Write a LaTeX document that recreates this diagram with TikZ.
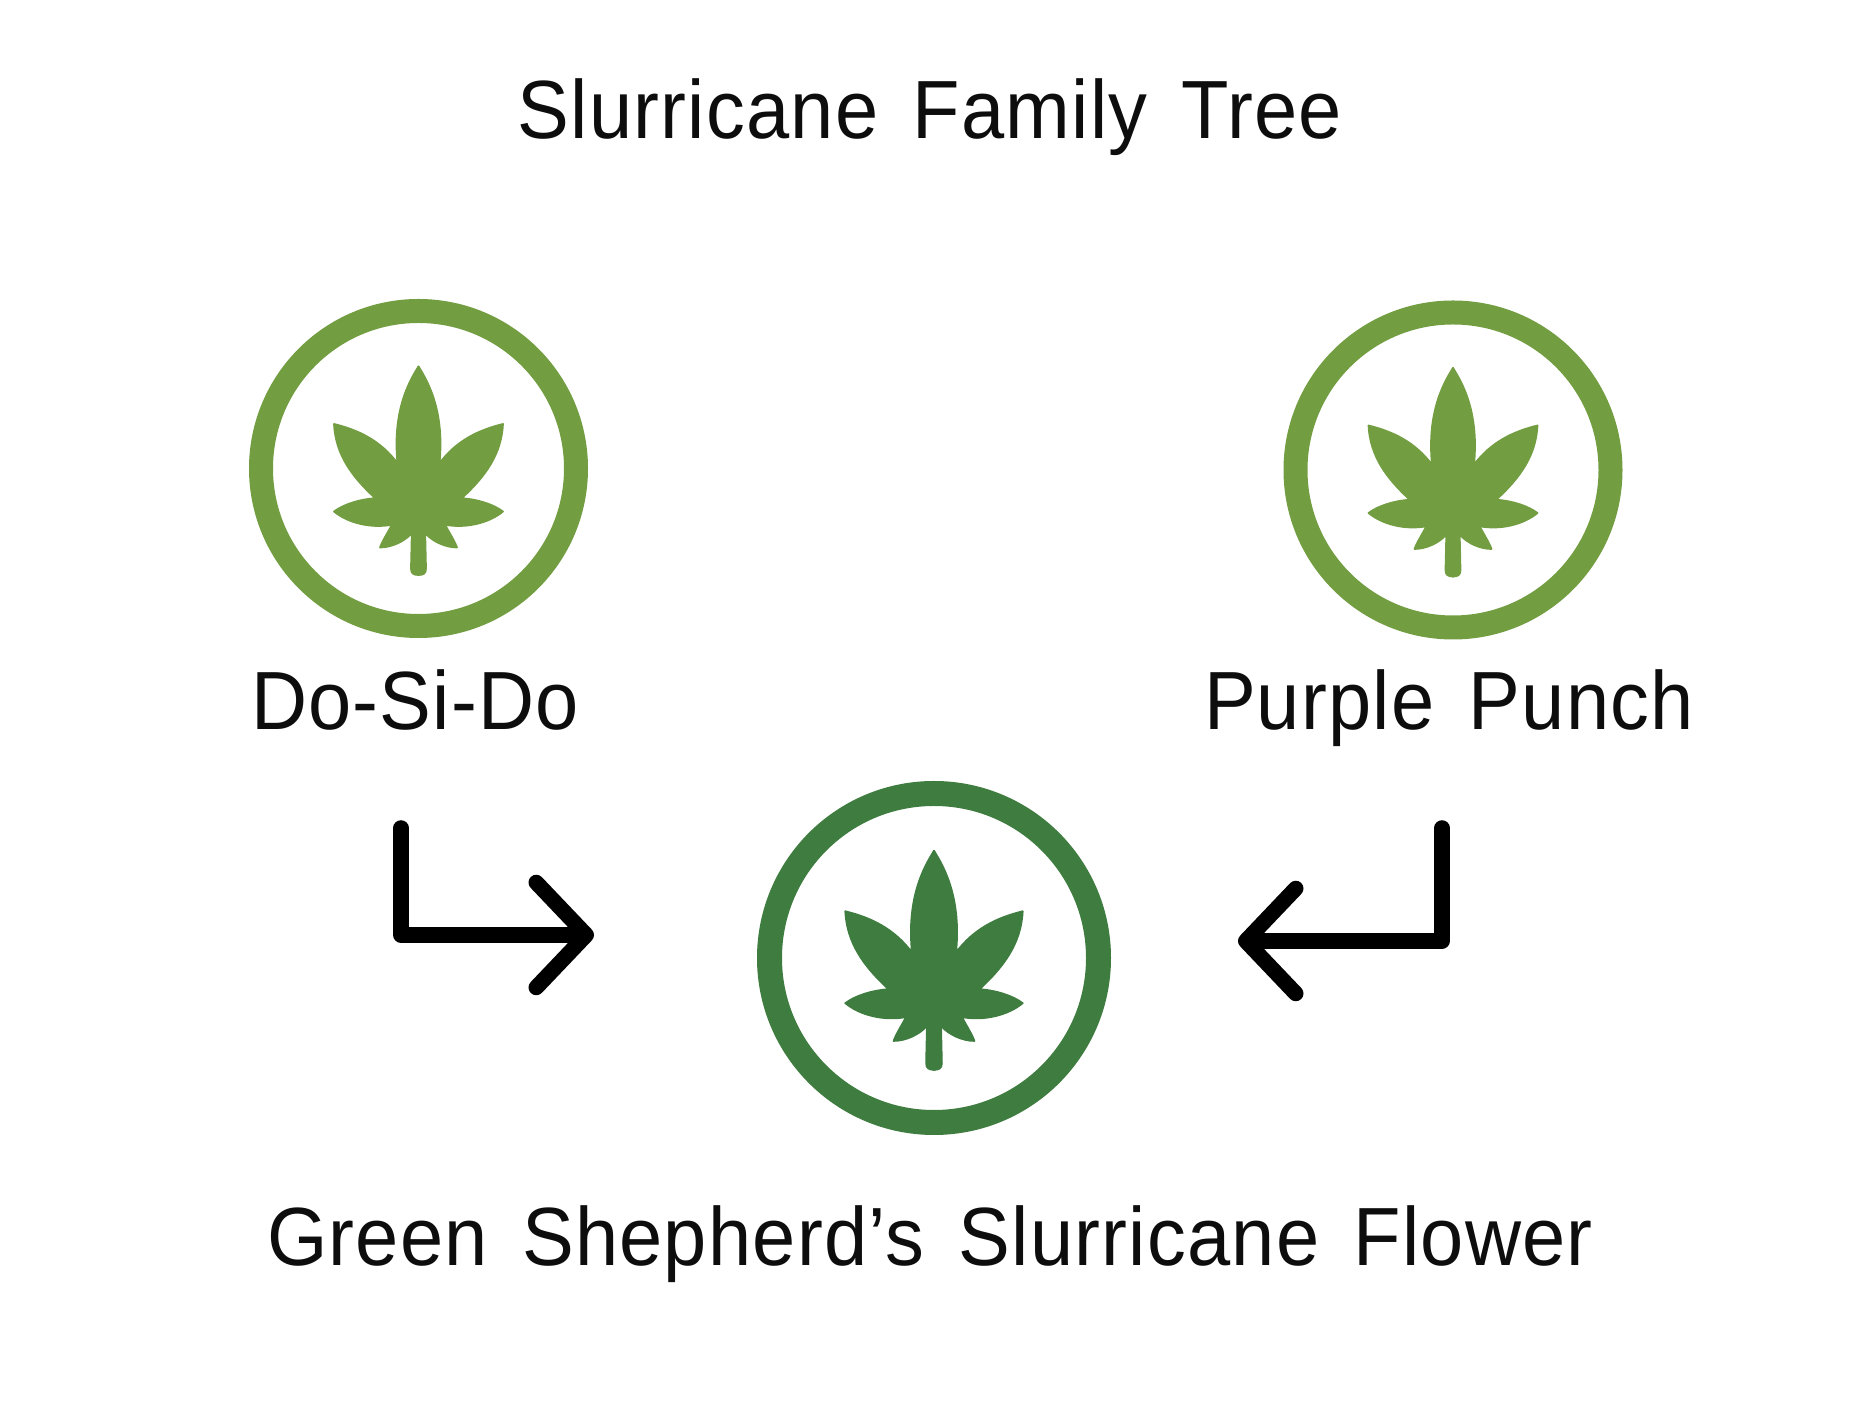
\documentclass[tikz,border=0pt]{standalone}
\usepackage{fontspec}
\setmainfont[LetterSpace=1.5,WordSpace=1.5,FakeStretch=.94]{Liberation Sans}
\usetikzlibrary{arrows.meta}
\definecolor{leafgreen}{HTML}{729D41}
\definecolor{darkgreen}{HTML}{3E7C3F}
\tikzset{
  ring/.style={circle, draw, line width=.24cm, minimum size=3.15cm, inner sep=0pt},
  label/.style={font=\fontsize{23.5}{28}\selectfont, text=black!95, inner sep=0pt, anchor=base},
  link/.style={line width=.155cm, line cap=round, line join=round, -{Straight Barb[length=.5cm, width=1.05cm, line cap=round, line join=round]}},
  leaf/.pic={
    \foreach \s in {1,-1}
      \filldraw[xscale=\s, line width=.5pt, line join=round]
        (0,1.02) .. controls (-.11,.85) and (-.26,.55) .. (-.21,.053)
        .. controls (-.38,.28) and (-.6,.385) .. (-.845,.445)
        .. controls (-.83,.15) and (-.68,-.07) .. (-.433,-.297)
        .. controls (-.6,-.31) and (-.75,-.36) .. (-.845,-.43)
        .. controls (-.7,-.55) and (-.47,-.6) .. (-.267,-.563)
        .. controls (-.3,-.63) and (-.36,-.72) .. (-.385,-.79)
        .. controls (-.27,-.79) and (-.14,-.73) .. (-.067,-.647)
        -- (-.075,-1) .. controls (-.075,-1.05) and (-.05,-1.065) .. (0,-1.065)
        -- (.01,-1.065) -- (.01,1) -- cycle;
  }
}
\begin{document}
\begin{tikzpicture}
  \useasboundingbox (0,0) rectangle (18.61,14.17);
  % parents
  \node[ring, draw=leafgreen] (dosido) at (4.185,9.485) {};
  \node[ring, draw=leafgreen] (purple) at (14.53,9.47) {};
  \pic[leafgreen] at (dosido) {leaf};
  \pic[leafgreen] at (purple) {leaf};
  \node[label] (dosidotext) at (4.15,6.87) {Do-Si-Do};
  \node[label] (purpletext) at (14.49,6.87) {Purple Punch};
  % cross
  \node[ring, draw=darkgreen, line width=.25cm, minimum size=3.29cm] (flower) at (9.34,4.59) {};
  \pic[darkgreen, scale=1.05] at (flower) {leaf};
  \node[label] (title) at (9.30,12.78) {Slurricane Family Tree};
  \node[label] (flowertext) at (9.30,1.51) {Green Shepherd’s Slurricane Flower};
  % arrows
  \coordinate (dosidoout) at (4.01,5.89);
  \coordinate (flowerleft) at (5.94,4.82);
  \coordinate (purpleout) at (14.42,5.89);
  \coordinate (flowerright) at (12.38,4.76);
  \draw[link] (dosidoout) |- (flowerleft);
  \draw[link] (purpleout) |- (flowerright);
\end{tikzpicture}
\end{document}
